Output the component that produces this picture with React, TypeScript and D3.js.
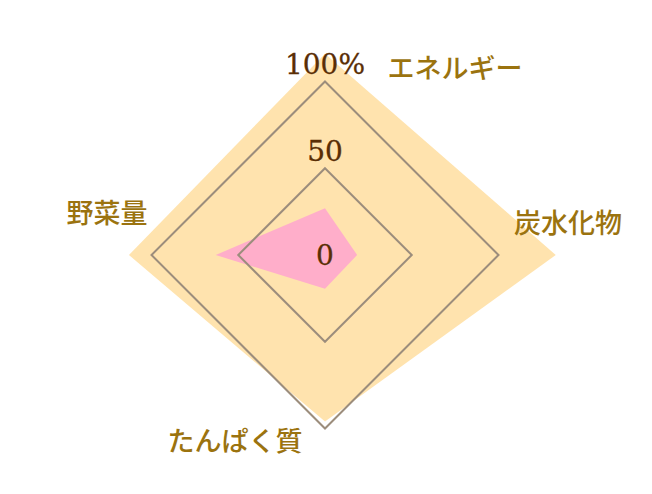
import React from "react";
import * as d3 from "d3";

const categories = ["エネルギー", "炭水化物", "たんぱく質", "野菜量"];
const targetValues = [116, 133, 96, 113];
const actualValues = [27, 18.5, 19.5, 63];
const gridLevels = [50, 100];
const tickValues = [0, 50, 100];
const tickLabels = ["0", "50", "100%"];

const W = 652;
const H = 494;
const cx = 325;
const cy = 255;

const r = d3.scaleLinear().domain([0, 100]).range([0, 173.5]);
const angle = d3
  .scalePoint<number>()
  .domain(d3.range(categories.length))
  .range([0, 2 * Math.PI * (categories.length - 1) / categories.length]);

const pt = (i: number, v: number): [number, number] => {
  const a = angle(i)!;
  return [cx + r(v) * Math.sin(a), cy - r(v) * Math.cos(a)];
};

const line = d3.line<[number, number]>().curve(d3.curveLinearClosed);
const polyFor = (vals: number[]) => line(vals.map((v, i) => pt(i, v)))!;

// label layout (center positions)
const labelPos: [number, number][] = [
  [455, 66],
  [568, 221],
  [235, 439],
  [107, 211],
];

export default function App() {
  return (
    <svg
      width={W}
      height={H}
      style={{ position: "absolute", left: 0, top: 0, background: "#fff" }}
    >
      <path d={polyFor(targetValues)} fill="#FFE3AE" />
      <path d={polyFor(actualValues)} fill="#FFAECA" />
      {gridLevels.map((g) => (
        <path
          key={g}
          d={polyFor(categories.map(() => g))}
          fill="none"
          stroke="#9c8d7c"
          strokeWidth={2}
        />
      ))}
      {tickValues.map((v, i) => (
        <text
          key={v}
          x={cx}
          y={cy - r(v) - (v > 0 ? 17 : 0)}
          textAnchor="middle"
          dominantBaseline="central"
          fontFamily="'DejaVu Serif', serif"
          fontSize={28}
          fill="#5a2e05"
          stroke="#5a2e05"
          strokeWidth={0.3}
        >
          {tickLabels[i]}
        </text>
      ))}
      {categories.map((c, i) => (
        <text
          key={c}
          x={labelPos[i][0]}
          y={labelPos[i][1]}
          textAnchor="middle"
          dominantBaseline="central"
          fontFamily="'Noto Sans CJK JP', sans-serif"
          fontSize={27}
          fontWeight={500}
          fill="#9b730f"
        >
          {c}
        </text>
      ))}
    </svg>
  );
}
